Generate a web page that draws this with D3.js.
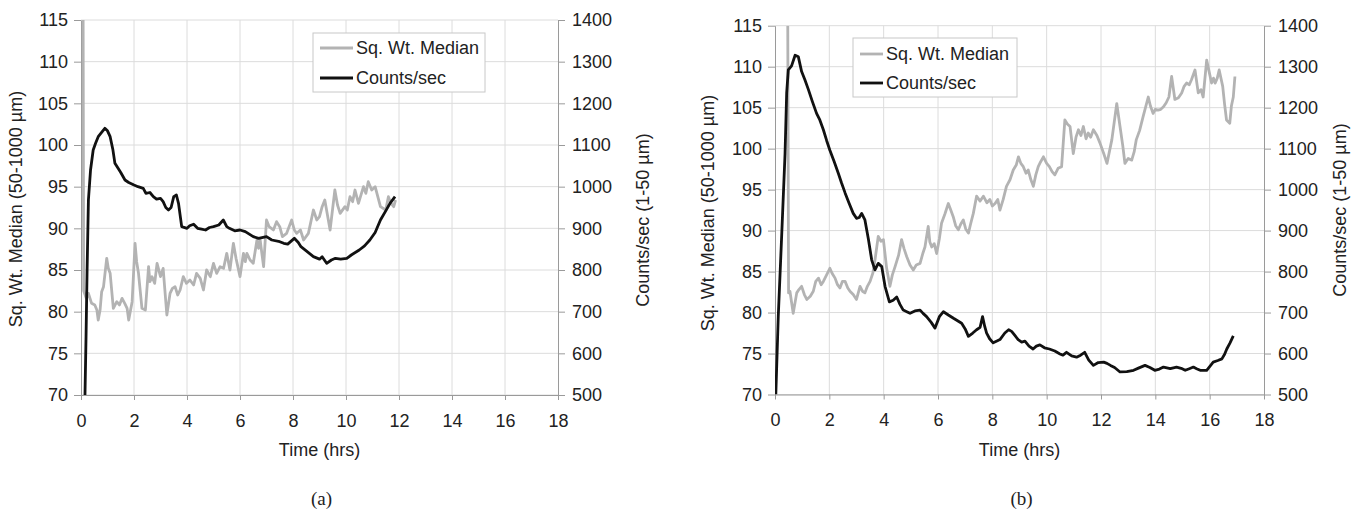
<!DOCTYPE html>
<html>
<head>
<meta charset="utf-8">
<script src="https://cdn.jsdelivr.net/npm/d3@7"></script>
<style>
  html, body { margin: 0; padding: 0; background: #fff; }
  svg { display: block; }
  text { font-family: "Liberation Sans", Arial, sans-serif; fill: #222; }
</style>
</head>
<body>
<svg id="chart" width="1351" height="516"></svg>
<script>
// ---- data -------------------------------------------------------------
const timeTicks = [0, 2, 4, 6, 8, 10, 12, 14, 16, 18];
const medianTicks = [70, 75, 80, 85, 90, 95, 100, 105, 110, 115];
const countTicks = [500, 600, 700, 800, 900, 1000, 1100, 1200, 1300, 1400];
const seriesNames = ["Sq. Wt. Median", "Counts/sec"];
const panelLabels = ["(a)", "(b)"];

// run (a): [time (hrs), square-weighted median (µm)]
const medianA = [[0.08,115],[0.1,82.5],[0.2,81.6],[0.28,82.2],[0.4,81],[0.52,80.8],[0.6,80.2],[0.65,79],[0.72,80.2],[0.78,82.4],[0.85,83],[0.97,86.4],[1.03,85.2],[1.1,84.6],[1.22,80.4],[1.35,81.2],[1.45,80.8],[1.55,81.6],[1.65,81],[1.74,80.4],[1.8,79],[1.93,81.2],[2.04,88.2],[2.1,86],[2.17,84.6],[2.3,80.4],[2.43,80.2],[2.55,85.4],[2.6,83.6],[2.68,84.2],[2.78,83.4],[2.87,85.8],[3.0,84.2],[3.1,85.2],[3.24,79.6],[3.36,82.2],[3.45,82.8],[3.55,83],[3.65,82],[3.74,82.6],[3.86,84.2],[3.98,83.4],[4.11,83.8],[4.25,83.2],[4.36,84.6],[4.5,84],[4.62,82.6],[4.74,85],[4.88,84.2],[5.0,85.8],[5.12,84.6],[5.25,85.4],[5.38,85.2],[5.5,87],[5.62,85],[5.75,88.2],[5.85,86.4],[6.0,84.2],[6.13,87],[6.2,86],[6.26,87],[6.38,86.2],[6.5,85.8],[6.64,88.6],[6.7,87.6],[6.76,88.6],[6.89,85.4],[7.0,91],[7.1,90.2],[7.26,89.8],[7.38,90.8],[7.5,90.2],[7.6,89],[7.76,89.4],[7.95,91],[8.05,89.8],[8.14,89.4],[8.28,89.8],[8.4,88.6],[8.58,89.4],[8.77,92.2],[8.9,91],[9.0,91.4],[9.1,92.6],[9.2,93.4],[9.4,89.8],[9.58,94.6],[9.68,92.8],[9.78,91.8],[9.96,92.6],[10.05,92.2],[10.15,93.8],[10.25,93.2],[10.34,94.6],[10.47,93],[10.66,95],[10.75,94.2],[10.84,95.6],[10.97,94.6],[11.1,95],[11.2,93.8],[11.3,92.6],[11.5,92.2],[11.6,93.8],[11.7,93],[11.8,92.6],[11.87,93.4]];

// run (a): [time (hrs), counts/sec]
const countsA = [[0.15,500],[0.19,640],[0.23,800],[0.28,968],[0.36,1040],[0.46,1088],[0.55,1104],[0.65,1120],[0.8,1132],[0.9,1140],[1.0,1134],[1.1,1120],[1.2,1090],[1.28,1056],[1.4,1044],[1.5,1034],[1.66,1016],[1.8,1010],[2.0,1004],[2.15,1000],[2.35,996],[2.45,984],[2.6,986],[2.73,976],[2.85,970],[3.0,972],[3.1,964],[3.2,950],[3.3,944],[3.4,950],[3.5,976],[3.6,980],[3.68,960],[3.8,904],[4.0,900],[4.1,906],[4.25,910],[4.4,900],[4.55,898],[4.7,896],[4.85,902],[5.0,904],[5.2,908],[5.37,920],[5.5,904],[5.6,900],[5.8,894],[6.0,896],[6.2,892],[6.35,886],[6.5,880],[6.7,876],[7.0,880],[7.2,872],[7.5,868],[7.65,864],[7.8,862],[8.05,876],[8.2,866],[8.3,856],[8.5,846],[8.77,832],[9.0,826],[9.1,832],[9.27,816],[9.45,824],[9.6,828],[9.8,826],[10.03,828],[10.2,836],[10.5,848],[10.7,858],[10.9,872],[11.1,890],[11.3,920],[11.5,942],[11.66,960],[11.85,976]];

// run (b): [time (hrs), square-weighted median (µm)]
const medianB = [[0.47,115],[0.5,82.4],[0.55,82.6],[0.67,79.9],[0.8,82.4],[0.88,82.8],[0.98,83.2],[1.08,82.2],[1.17,81.6],[1.3,82],[1.41,82.6],[1.5,83.8],[1.6,84.2],[1.7,83.4],[1.78,83.8],[1.9,84.6],[2.02,85.4],[2.1,84.8],[2.21,84.2],[2.3,83.4],[2.39,83],[2.48,83.8],[2.58,83.8],[2.68,83],[2.76,82.6],[2.88,82.2],[3.0,81.6],[3.13,83.2],[3.22,82.6],[3.31,82.4],[3.4,83.2],[3.5,83.8],[3.6,84.8],[3.68,86.4],[3.8,89.3],[3.9,88.7],[3.99,88.9],[4.11,85.4],[4.23,83.2],[4.32,84.6],[4.42,85.6],[4.55,87],[4.66,88.9],[4.75,87.8],[4.85,86.8],[4.97,85.8],[5.09,85.2],[5.2,85.8],[5.34,86],[5.44,87.2],[5.52,88],[5.64,90.5],[5.7,88.6],[5.77,88],[5.86,88.4],[5.95,87.2],[6.05,89],[6.13,90.9],[6.25,92],[6.38,93.3],[6.46,92.6],[6.56,91.7],[6.65,90.6],[6.75,90.1],[6.84,90.8],[6.93,91.3],[7.02,90.2],[7.12,89.7],[7.2,90.8],[7.3,92.1],[7.42,94.2],[7.55,93.6],[7.67,94.2],[7.8,93.4],[7.91,93.8],[8.0,93],[8.1,93.3],[8.2,93.8],[8.28,92.5],[8.4,93.8],[8.52,95.4],[8.65,96.2],[8.77,97.4],[8.88,98],[8.96,99],[9.05,98.2],[9.14,97.8],[9.24,97],[9.32,97.4],[9.42,96.2],[9.51,95.4],[9.6,96.8],[9.69,97.8],[9.78,98.4],[9.88,99],[10.0,98.2],[10.1,97.8],[10.2,97.2],[10.3,96.8],[10.42,97.6],[10.55,97.8],[10.67,103.5],[10.76,103],[10.86,102.7],[10.98,99.4],[11.08,101.4],[11.17,102.3],[11.26,101.6],[11.35,102.7],[11.45,101.2],[11.53,101.9],[11.62,101.4],[11.72,102.3],[11.85,101.6],[11.96,100.7],[12.1,99.4],[12.22,98.2],[12.4,101.1],[12.58,105.5],[12.7,102.7],[12.8,100.4],[12.88,98.2],[13.0,98.8],[13.13,98.6],[13.22,99.6],[13.3,101.1],[13.42,102.2],[13.55,103.9],[13.74,106.3],[13.82,105.2],[13.92,104.3],[14.0,104.8],[14.1,104.7],[14.2,104.8],[14.3,105.1],[14.4,105.6],[14.5,106.3],[14.6,108.8],[14.72,106],[14.85,106.2],[14.97,106.8],[15.06,107.6],[15.15,108],[15.25,107.8],[15.33,108.4],[15.46,109.6],[15.58,106.8],[15.68,107.2],[15.76,106.3],[15.89,110.8],[15.98,109.4],[16.07,108],[16.14,108.6],[16.2,108],[16.28,108.6],[16.35,109.6],[16.48,107.6],[16.55,105.4],[16.62,103.5],[16.74,103.1],[16.8,105.2],[16.87,106.3],[16.93,108.8]];

// run (b): [time (hrs), counts/sec]
const countsB = [[0.03,500],[0.12,690],[0.25,894],[0.37,1088],[0.43,1236],[0.49,1292],[0.61,1302],[0.74,1328],[0.86,1324],[0.98,1288],[1.1,1268],[1.23,1244],[1.38,1214],[1.53,1186],[1.65,1170],[1.78,1146],[1.9,1120],[2.02,1096],[2.18,1068],[2.33,1040],[2.45,1016],[2.58,992],[2.72,968],[2.88,942],[3.0,930],[3.1,932],[3.19,942],[3.31,926],[3.44,878],[3.56,828],[3.68,804],[3.8,820],[3.93,812],[4.05,764],[4.21,726],[4.35,730],[4.48,738],[4.6,720],[4.72,706],[4.85,702],[4.97,698],[5.15,704],[5.34,706],[5.45,698],[5.58,690],[5.75,676],[5.89,662],[6.05,690],[6.2,702],[6.38,694],[6.57,686],[6.72,680],[6.87,674],[7.0,660],[7.12,642],[7.28,650],[7.42,658],[7.55,664],[7.64,690],[7.72,666],[7.79,650],[7.9,636],[8.03,626],[8.15,630],[8.28,634],[8.46,650],[8.6,658],[8.71,654],[8.83,644],[8.95,634],[9.08,628],[9.2,630],[9.35,618],[9.5,611],[9.62,618],[9.75,621],[9.92,614],[10.1,611],[10.3,606],[10.49,599],[10.6,596],[10.73,603],[10.92,594],[11.1,591],[11.25,596],[11.4,603],[11.55,584],[11.72,571],[11.9,578],[12.1,579],[12.22,576],[12.35,571],[12.5,566],[12.7,555],[12.95,556],[13.2,559],[13.4,565],[13.62,571],[13.8,566],[13.98,559],[14.15,562],[14.3,567],[14.55,563],[14.78,567],[14.95,564],[15.1,559],[15.25,563],[15.4,567],[15.52,563],[15.65,559],[15.89,559],[16.0,568],[16.13,579],[16.3,583],[16.45,587],[16.55,598],[16.63,611],[16.75,626],[16.87,643]];

// ---- layout -----------------------------------------------------------
const panels = [
  { id: "a", left: 81, right: 558, top: 20, bottom: 395,
    median: medianA, counts: countsA, label: panelLabels[0],
    leftTitleX: 16, leftTitleY: 209, rightTitleX: 643, rightTitleY: 220,
    legend: { x: 313, y: 33, w: 172, h: 59, lineLen: 33, row1: 48, row2: 78 } },
  { id: "b", left: 775, right: 1264, top: 25.7, bottom: 394.5,
    median: medianB, counts: countsB, label: panelLabels[1],
    leftTitleX: 708, leftTitleY: 213, rightTitleX: 1340, rightTitleY: 210,
    legend: { x: 853, y: 38, w: 164, h: 59, lineLen: 23, row1: 54, row2: 83 } }
];

const GRID = "#dcdcdc", AXIS = "#9a9a9a", GRAY = "#b3b3b3", BLACK = "#111";
const FONT = 18;
const svg = d3.select("#chart");

panels.forEach(p => {
  const x = d3.scaleLinear().domain([0, 18]).range([p.left, p.right]);
  const yL = d3.scaleLinear().domain([70, 115]).range([p.bottom, p.top]);
  const yR = d3.scaleLinear().domain([500, 1400]).range([p.bottom, p.top]);
  const g = svg.append("g");

  // gridlines
  g.append("g").selectAll("line").data(medianTicks).join("line")
    .attr("x1", p.left).attr("x2", p.right)
    .attr("y1", d => yL(d)).attr("y2", d => yL(d))
    .attr("stroke", GRID).attr("stroke-width", 1);
  g.append("g").selectAll("line").data(timeTicks.filter(d => d > 0 && d < 18)).join("line")
    .attr("x1", d => x(d)).attr("x2", d => x(d))
    .attr("y1", p.top).attr("y2", p.bottom)
    .attr("stroke", GRID).attr("stroke-width", 1);

  // axes
  const styleAxis = sel => {
    sel.select(".domain").attr("stroke", AXIS);
    sel.selectAll(".tick line").attr("stroke", AXIS);
    sel.selectAll(".tick text").attr("font-size", FONT).attr("fill", "#222");
  };
  const fmt = d3.format("d");
  g.append("g").attr("transform", `translate(0,${p.bottom})`)
    .call(d3.axisBottom(x).tickValues(timeTicks).tickFormat(fmt).tickSize(5).tickSizeOuter(0).tickPadding(14))
    .call(styleAxis);
  g.append("g").attr("transform", `translate(${p.left},0)`)
    .call(d3.axisLeft(yL).tickValues(medianTicks).tickFormat(fmt).tickSize(7).tickSizeOuter(0).tickPadding(6))
    .call(styleAxis);
  g.append("g").attr("transform", `translate(${p.right},0)`)
    .call(d3.axisRight(yR).tickValues(countTicks).tickFormat(fmt).tickSize(7).tickSizeOuter(0).tickPadding(7))
    .call(styleAxis);

  // series
  const clipId = "clip-" + p.id;
  svg.append("defs").append("clipPath").attr("id", clipId).append("rect")
    .attr("x", p.left).attr("y", p.top).attr("width", p.right - p.left).attr("height", p.bottom - p.top);
  const lineL = d3.line().x(d => x(d[0])).y(d => yL(d[1]));
  const lineR = d3.line().x(d => x(d[0])).y(d => yR(d[1]));
  const marks = g.append("g").attr("clip-path", `url(#${clipId})`);
  marks.append("path").datum(p.median).attr("d", lineL)
    .attr("fill", "none").attr("stroke", GRAY).attr("stroke-width", 2.8)
    .attr("stroke-linejoin", "round");
  marks.append("path").datum(p.counts).attr("d", lineR)
    .attr("fill", "none").attr("stroke", BLACK).attr("stroke-width", 2.8)
    .attr("stroke-linejoin", "round");

  // axis titles
  g.append("text").attr("transform", `translate(${p.leftTitleX},${p.leftTitleY}) rotate(-90)`)
    .attr("text-anchor", "middle").attr("dominant-baseline", "central").attr("font-size", FONT)
    .text("Sq. Wt. Median (50-1000 µm)");
  g.append("text").attr("transform", `translate(${p.rightTitleX},${p.rightTitleY}) rotate(-90)`)
    .attr("text-anchor", "middle").attr("dominant-baseline", "central").attr("font-size", FONT)
    .text("Counts/sec (1-50 µm)");
  g.append("text").attr("x", (p.left + p.right) / 2).attr("y", 450)
    .attr("text-anchor", "middle").attr("dominant-baseline", "central").attr("font-size", FONT)
    .text("Time (hrs)");
  g.append("text").attr("x", (p.left + p.right) / 2 + 2).attr("y", 498)
    .attr("text-anchor", "middle").attr("dominant-baseline", "central").attr("font-size", 19)
    .style("font-family", "'Liberation Serif', 'Times New Roman', serif")
    .text(p.label);

  // legend
  const L = p.legend;
  const lg = g.append("g");
  lg.append("rect").attr("x", L.x).attr("y", L.y).attr("width", L.w).attr("height", L.h)
    .attr("fill", "#fff").attr("stroke", "#c8c8c8").attr("stroke-width", 1);
  [[seriesNames[0], GRAY, L.row1], [seriesNames[1], BLACK, L.row2]].forEach(([name, color, yy]) => {
    lg.append("line").attr("x1", L.x + 7).attr("x2", L.x + 7 + L.lineLen)
      .attr("y1", yy).attr("y2", yy).attr("stroke", color).attr("stroke-width", 2.8);
    lg.append("text").attr("x", L.x + 10 + L.lineLen).attr("y", yy)
      .attr("dominant-baseline", "central").attr("font-size", FONT).text(name);
  });
});
</script>
</body>
</html>
